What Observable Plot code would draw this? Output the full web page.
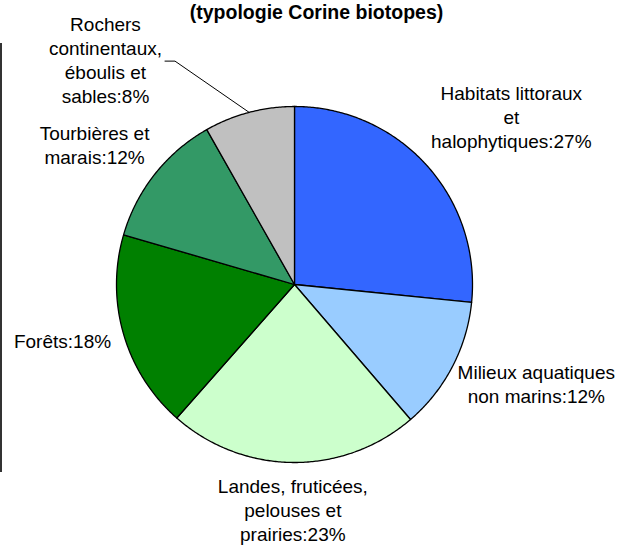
<!DOCTYPE html>
<html>
<head>
<meta charset="utf-8">
<script src="https://cdn.jsdelivr.net/npm/d3@7"></script>
<script src="https://cdn.jsdelivr.net/npm/@observablehq/plot@0.6"></script>
<style>
html, body { margin: 0; padding: 0; background: #fff; }
#wrap { position: relative; width: 630px; height: 545px; overflow: hidden; }
#edge { position: absolute; left: 0; top: 43px; height: 429px; border-left: 2px solid #333; }
</style>
</head>
<body>
<div id="wrap"><div id="edge"></div></div>
<script>
// ---- data ----
const title = "(typologie Corine biotopes)";
const categories = [
  "Habitats littoraux\net\nhalophytiques",
  "Milieux aquatiques\nnon marins",
  "Landes, fruticées,\npelouses et\nprairies",
  "Forêts",
  "Tourbières et\nmarais",
  "Rochers\ncontinentaux,\néboulis et\nsables"
];
const values = [26.6, 12.1, 22.8, 18.0, 12.3, 8.2];
const colors = ["#3366FF", "#99CCFF", "#CCFFCC", "#008000", "#339966", "#C0C0C0"];

// ---- layout ----
const W = 630, H = 545, cx = 294, cy = 284, R = 178;
const FS = 19, LH = 24;
const labelGap = [34, 16, 12, 15, 22, 5];
const labelShift = [[0, 0], [0, 0], [0, 0], [0, 0], [0, 0], [-128, 0]];

const total = d3.sum(values);
const arcs = d3.pie().sort(null).value(d => d)(values);

// slice polygons in unit (data) coordinates: angle 0 at top, clockwise
const slicePts = [];
arcs.forEach((p, i) => {
  const n = Math.max(2, Math.ceil((p.endAngle - p.startAngle) / (Math.PI / 360)));
  slicePts.push({i, x: 0, y: 0});
  for (let k = 0; k <= n; k++) {
    const a = p.startAngle + (p.endAngle - p.startAngle) * k / n;
    slicePts.push({i, x: Math.sin(a), y: Math.cos(a)});
  }
  slicePts.push({i, x: 0, y: 0});
});

// labels
const ctx = document.createElement("canvas").getContext("2d");
ctx.font = `${FS}px "Liberation Sans"`;
const toX = px => (px - cx) / R;
const toY = py => (cy - py) / R;
const labels = [];
const leaderPts = [];
arcs.forEach((p, i) => {
  const text = categories[i] + ":" + Math.round(values[i] / total * 100) + "%";
  const lines = text.split("\n");
  const w = d3.max(lines, l => ctx.measureText(l).width);
  const h = lines.length * LH;
  const a = (p.startAngle + p.endAngle) / 2;
  const ux = Math.sin(a), uy = -Math.cos(a);
  const d = R + labelGap[i];
  const px = cx + d * ux + ux * w / 2 + labelShift[i][0];
  const py = cy + d * uy + uy * h / 2 + labelShift[i][1];
  labels.push({text, x: toX(px), y: toY(py + 0.32 * FS - 0.32 * LH)});
  if (labelShift[i][0] !== 0 || labelShift[i][1] !== 0) {
    const ex = cx + R * ux, ey = cy + R * uy;
    const side = ex > px ? 1 : -1;
    const sx = px + side * (w / 2 + 3), sy = py;
    leaderPts.push({i, x: toX(sx), y: toY(sy)});
    leaderPts.push({i, x: toX(sx + side * 10), y: toY(sy)});
    leaderPts.push({i, x: toX(ex), y: toY(ey)});
  }
});

const chart = Plot.plot({
  width: W,
  height: H,
  marginLeft: cx - R,
  marginRight: W - cx - R,
  marginTop: cy - R,
  marginBottom: H - cy - R,
  x: {domain: [-1, 1], axis: null},
  y: {domain: [-1, 1], axis: null},
  style: {fontFamily: '"Liberation Sans", Arial, sans-serif', background: "white", color: "black"},
  marks: [
    Plot.line(slicePts, {x: "x", y: "y", z: "i", fill: d => colors[d.i], stroke: "black", strokeWidth: 1.3, strokeLinejoin: "round"}),
    Plot.line(leaderPts, {x: "x", y: "y", z: "i", stroke: "black", strokeWidth: 1}),
    Plot.text(labels, {x: "x", y: "y", text: "text", textAnchor: "middle", lineAnchor: "middle", lineHeight: LH / FS, fontSize: FS, fill: "black"}),
    Plot.text([title], {text: d => d, frameAnchor: "top", dx: 22, dy: -88, lineAnchor: "bottom", fontWeight: "bold", fontSize: 19.5, fill: "black"})
  ]
});
document.getElementById("wrap").appendChild(chart);
</script>
</body>
</html>
